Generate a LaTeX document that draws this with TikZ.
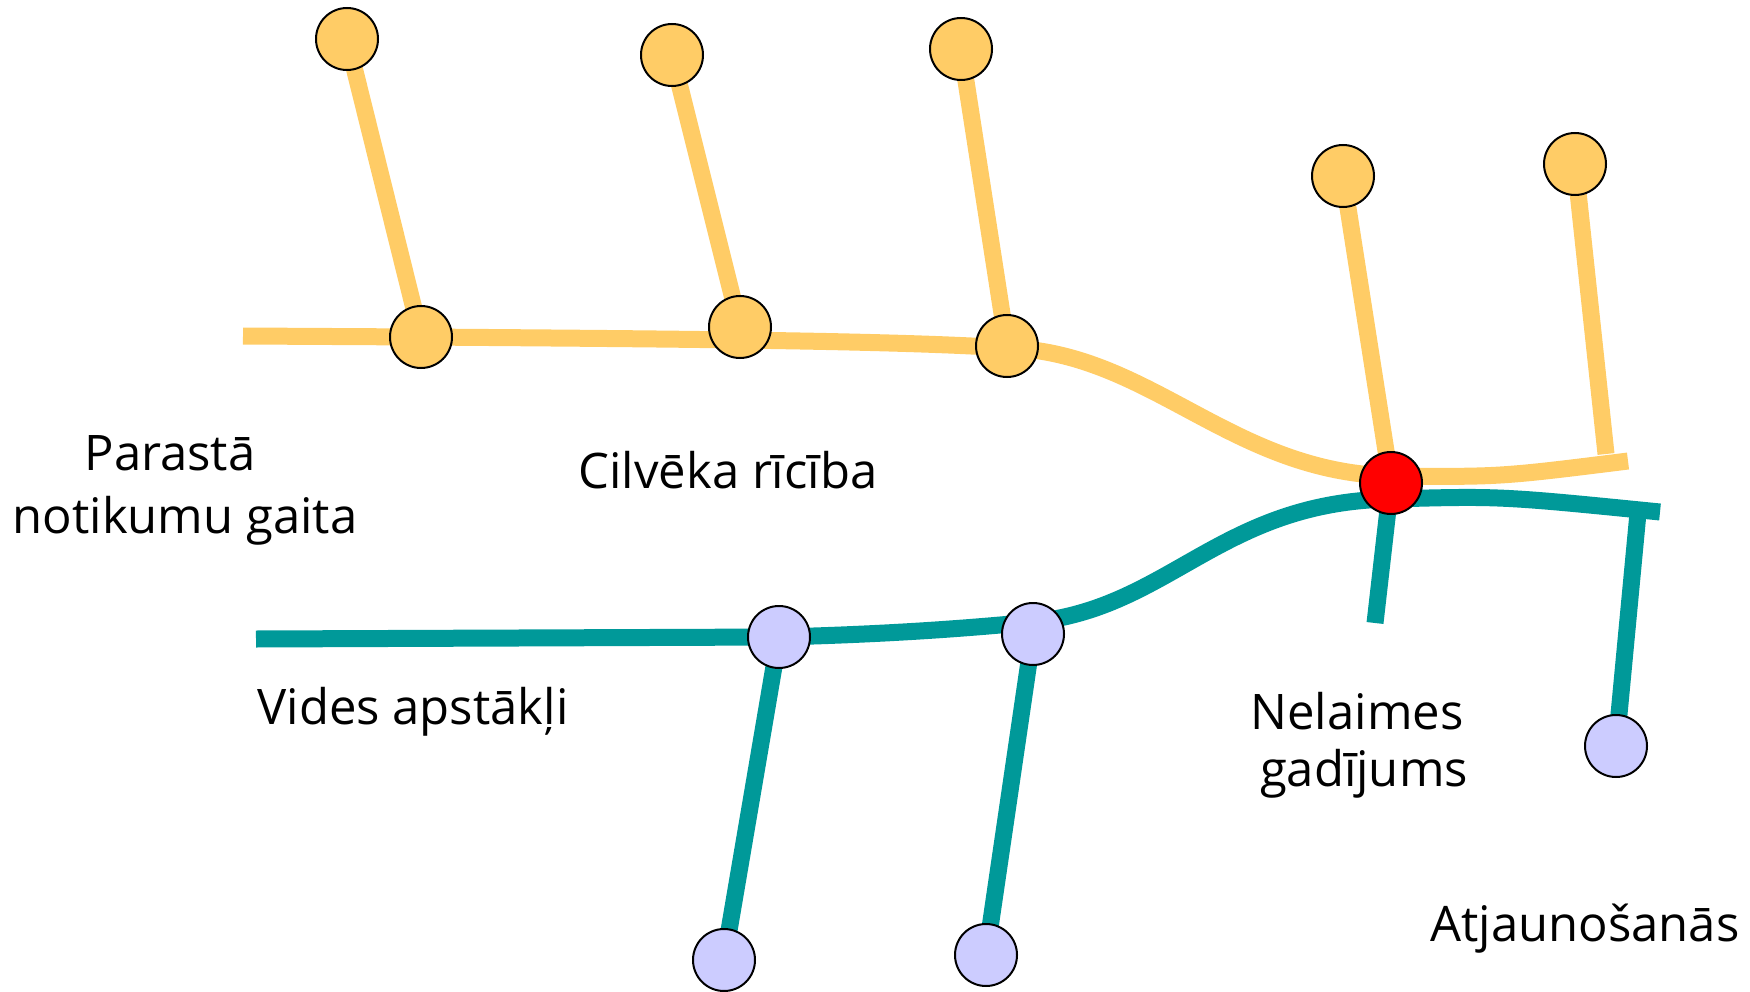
\documentclass[tikz,border=0pt]{standalone}
\usepackage{fontspec}
\setmainfont{Open Sans}
\usetikzlibrary{backgrounds}
\definecolor{ora}{HTML}{FFCC66}
\definecolor{tea}{HTML}{009999}
\definecolor{lav}{HTML}{CCCCFF}
\definecolor{redd}{HTML}{FF0000}
\tikzset{
  dot/.style={circle,draw=black,line width=2pt,minimum size=62pt,inner sep=0pt},
  odot/.style={dot,fill=ora},
  tdot/.style={dot,fill=lav},
  oline/.style={draw=ora,line width=17pt},
  tline/.style={draw=tea,line width=17pt},
  lbl/.style={anchor=base,inner sep=0pt,font=\fontsize{49}{58}\selectfont}
}
\begin{document}
\begin{tikzpicture}[x=1pt,y=-1pt]
\useasboundingbox (0,0) rectangle (1750,992);
% orange nodes
\node[odot] (t1) at (347,39) {};
\node[odot] (t2) at (672,55) {};
\node[odot] (t3) at (961,49) {};
\node[odot] (t4) at (1343,176) {};
\node[odot] (t5) at (1575,164) {};
\node[odot] (l1) at (421,337) {};
\node[odot] (l2) at (740,327) {};
\node[odot] (l3) at (1007,346) {};
\node[dot,fill=redd] (red) at (1391,483) {};
% teal nodes
\node[tdot] (b1) at (779,637) {};
\node[tdot] (b2) at (1033,634) {};
\node[tdot] (bb1) at (724,960) {};
\node[tdot] (bb2) at (986,955) {};
\node[tdot] (bb3) at (1616,746) {};
% free ends
\coordinate (oS) at (243,336);
\coordinate (oE) at (1628,461);
\coordinate (t5e) at (1606,454);
\coordinate (tS) at (256,639);
\coordinate (tE) at (1660,512);
\coordinate (tJ) at (1638,513);
\coordinate (rd) at (1375,623);
\begin{pgfonlayer}{background}
\path[oline] (oS) -- (l1.center)
  .. controls (700,339) and (900,341) .. (1007,348)
  .. controls (1150,352) and (1230,472) .. (1391,476)
  .. controls (1500,477) .. (oE);
\path[oline] (t1.center) -- (l1.center);
\path[oline] (t2.center) -- (l2.center);
\path[oline] (t3.center) -- (l3.center);
\path[oline] (t4.center) -- (red.center);
\path[oline] (t5.center) -- (t5e);
\path[tline] (tS) -- (b1.center)
  .. controls (900,634) and (980,627) .. (1033,622)
  .. controls (1170,608) and (1220,502) .. (1391,499)
  .. controls (1500,496) .. (tE);
\path[tline] (b1.center) -- (bb1.center);
\path[tline] (b2.center) -- (bb2.center);
\path[tline] (red.center) -- (rd);
\path[tline] (tJ) -- (bb3.center);
\end{pgfonlayer}
% labels
\node[lbl] (lab1) at (170,470) {Parastā};
\node[lbl] (lab2) at (185,533) {notikumu gaita};
\node[lbl] (lab3) at (728,488) {Cilvēka rīcība};
\node[lbl] (lab4) at (413,724) {Vides apstākļi};
\node[lbl] (lab5) at (1357,729) {Nelaimes};
\node[lbl] (lab6) at (1364,786) {gadījums};
\node[lbl] (lab7) at (1585,941) {Atjaunošanās};
\end{tikzpicture}
\end{document}
